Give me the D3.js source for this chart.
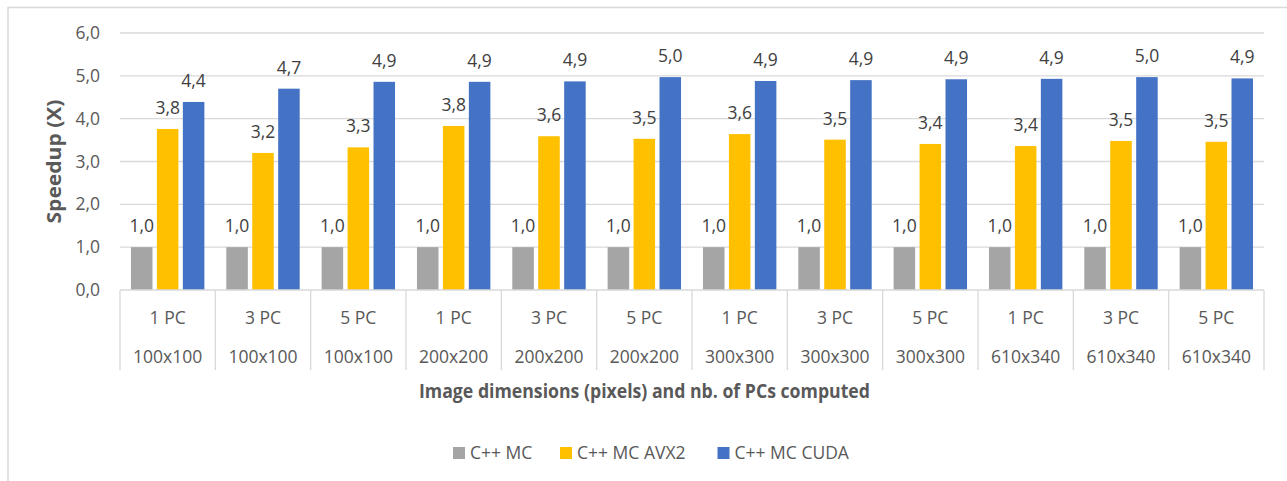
<!DOCTYPE html>
<html lang="en">
<meta charset="utf-8">
<title>Speedup</title>
<style>
  body { margin: 0; background: #fff; }
  svg { display: block; }
  text { font-family: "Open Sans", "Noto Sans", sans-serif; }
</style>
<body>
<div id="chart"></div>
<script src="https://cdn.jsdelivr.net/npm/d3@7"></script>
<script>
// Data
var pcLabels = ["1 PC", "3 PC", "5 PC", "1 PC", "3 PC", "5 PC", "1 PC", "3 PC", "5 PC", "1 PC", "3 PC", "5 PC"];
var dimLabels = ["100x100", "100x100", "100x100", "200x200", "200x200", "200x200",
                 "300x300", "300x300", "300x300", "610x340", "610x340", "610x340"];
var seriesNames = ["C++ MC", "C++ MC AVX2", "C++ MC CUDA"];
var mcValues   = [1.0, 1.0, 1.0, 1.0, 1.0, 1.0, 1.0, 1.0, 1.0, 1.0, 1.0, 1.0];
var avx2Values = [3.76, 3.2, 3.33, 3.83, 3.59, 3.53, 3.64, 3.51, 3.41, 3.36, 3.48, 3.46];
var cudaValues = [4.39, 4.7, 4.86, 4.86, 4.87, 4.97, 4.88, 4.9, 4.92, 4.93, 4.97, 4.94];
var yTicks = [0, 1, 2, 3, 4, 5, 6];
var colors = ["#a5a5a5", "#ffc000", "#4472c4"];

var W = 1287, H = 481;
var plot = { left: 120, right: 1264, top: 33, bottom: 290 };
var fs = 17.5;

var svg = d3.select("#chart").append("svg").attr("width", W).attr("height", H);

// outer chart frame
svg.append("rect").attr("x", 8).attr("y", 7.5).attr("width", 1300).attr("height", 500)
  .attr("fill", "none").attr("stroke", "#d9d9d9").attr("stroke-width", 1.5);

var idx = d3.range(pcLabels.length);
var x0 = d3.scaleBand().domain(idx).range([plot.left, plot.right]);
var bw = x0.bandwidth();
var x1 = d3.scaleBand().domain(d3.range(seriesNames.length))
  .range([bw * 0.115, bw * 0.885]).paddingInner(0.17);
var y = d3.scaleLinear().domain([0, 6]).range([plot.bottom, plot.top]);

// gridlines
svg.append("g").selectAll("line").data(yTicks.slice(1)).join("line")
  .attr("x1", plot.left).attr("x2", plot.right)
  .attr("y1", d => y(d)).attr("y2", d => y(d))
  .attr("stroke", "#d9d9d9").attr("stroke-width", 1.3);

// y tick labels
svg.append("g").selectAll("text").data(yTicks).join("text")
  .attr("x", 100).attr("y", d => y(d)).attr("dy", "0.35em")
  .attr("text-anchor", "end").attr("font-size", fs).attr("fill", "#595959")
  .text(d => d3.format(".1f")(d).replace(".", ","));

// bars
var series = [mcValues, avx2Values, cudaValues];
var fmt = v => d3.format(".1f")(v).replace(".", ",");
series.forEach(function(vals, s) {
  var g = svg.append("g");
  g.selectAll("rect").data(vals).join("rect")
    .attr("x", (d, i) => x0(i) + x1(s))
    .attr("y", d => y(d))
    .attr("width", x1.bandwidth())
    .attr("height", d => y(0) - y(d))
    .attr("fill", colors[s]);
  g.selectAll("text").data(vals).join("text")
    .attr("x", (d, i) => x0(i) + x1(s) + x1.bandwidth() / 2)
    .attr("y", d => y(d) - 15)
    .attr("text-anchor", "middle").attr("font-size", fs).attr("fill", "#404040")
    .text(fmt);
});

// category axis (table style)
var ax = svg.append("g");
ax.append("line").attr("x1", plot.left).attr("x2", plot.right)
  .attr("y1", plot.bottom).attr("y2", plot.bottom)
  .attr("stroke", "#d9d9d9").attr("stroke-width", 1.3);
var bounds = idx.map(i => x0(i)).concat([plot.right]);
ax.selectAll("line.sep").data(bounds).join("line").attr("class", "sep")
  .attr("x1", d => d).attr("x2", d => d)
  .attr("y1", plot.bottom).attr("y2", 370)
  .attr("stroke", "#d9d9d9").attr("stroke-width", 1.3);
ax.selectAll("text.pc").data(pcLabels).join("text").attr("class", "pc")
  .attr("x", (d, i) => x0(i) + bw / 2).attr("y", 318).attr("dy", "0.35em")
  .attr("text-anchor", "middle").attr("font-size", fs).attr("fill", "#595959")
  .text(d => d);
ax.selectAll("text.dim").data(dimLabels).join("text").attr("class", "dim")
  .attr("x", (d, i) => x0(i) + bw / 2).attr("y", 357).attr("dy", "0.35em")
  .attr("text-anchor", "middle").attr("font-size", fs).attr("fill", "#595959")
  .text(d => d);

// axis titles
svg.append("text").attr("x", 644.5).attr("y", 391).attr("dy", "0.35em")
  .attr("text-anchor", "middle").attr("font-size", 20).attr("font-weight", "bold")
  .attr("fill", "#595959").attr("textLength", 451).attr("lengthAdjust", "spacingAndGlyphs")
  .text("Image dimensions (pixels) and nb. of PCs computed");
svg.append("text").attr("transform", "translate(54," + ((plot.top + plot.bottom) / 2) + ") rotate(-90)")
  .attr("dy", "0.35em").attr("text-anchor", "middle").attr("font-size", 20)
  .attr("font-weight", "bold").attr("fill", "#595959")
  .attr("textLength", 124).attr("lengthAdjust", "spacingAndGlyphs")
  .text("Speedup (X)");

// legend
var legendX = [453, 560, 717.5];
var lg = svg.append("g").selectAll("g").data(seriesNames).join("g")
  .attr("transform", (d, i) => "translate(" + legendX[i] + ",453)");
lg.append("rect").attr("x", 0).attr("y", -6).attr("width", 12).attr("height", 12)
  .attr("fill", (d, i) => colors[i]);
lg.append("text").attr("x", 17).attr("y", 0).attr("dy", "0.35em")
  .attr("font-size", fs).attr("fill", "#595959").text(d => d);
</script>
</body>
</html>
